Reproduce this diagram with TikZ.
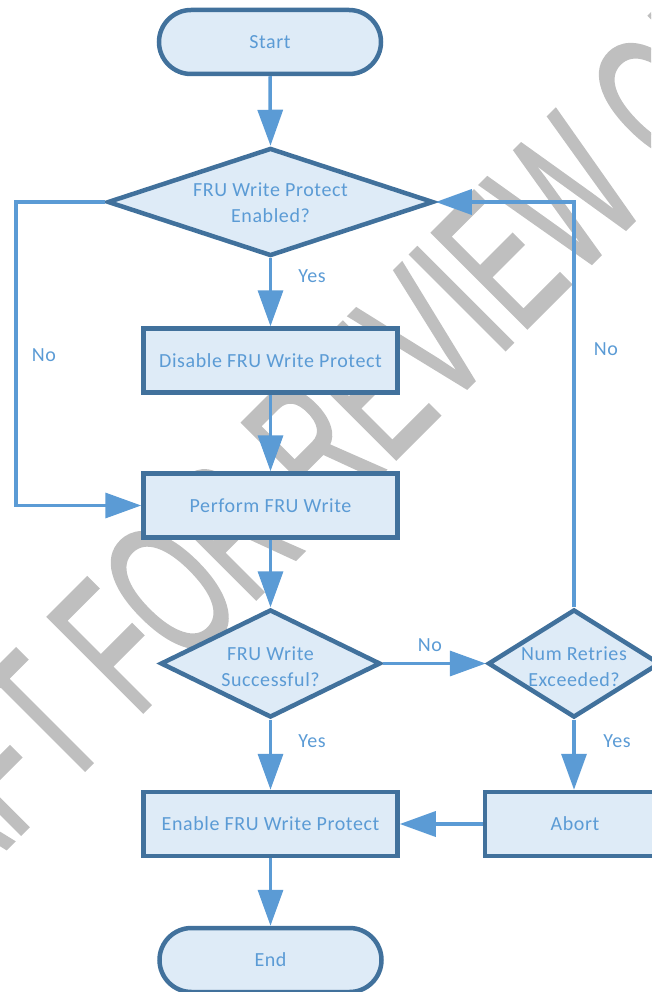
\documentclass[tikz,border=0pt]{standalone}
\usepackage{fontspec}
\setmainfont{Carlito}[LetterSpace=3]
\newfontfamily\wmfont{Liberation Sans}[FakeBold=1.5]
\usetikzlibrary{shapes.geometric,arrows.meta}
\definecolor{bfill}{HTML}{DEEBF7}
\definecolor{bdraw}{HTML}{41719C}
\definecolor{btext}{HTML}{5B9BD5}
\definecolor{arr}{HTML}{5B9BD5}
\definecolor{wmgray}{HTML}{BFBFBF}
\newcommand{\dtext}[2][0pt]{\makebox[0pt]{\raisebox{-#1}[\height][\depth]{\begin{tabular}{@{}c@{}}#2\end{tabular}}}}
\begin{document}
\begin{tikzpicture}[x=1pt,y=-1pt,
  box/.style={draw=bdraw, fill=bfill, line width=4.5pt, text=btext,
    font=\fontsize{20}{26}\selectfont, inner sep=0pt, align=center},
  procbox/.style={box, rectangle, minimum width=254pt, minimum height=64pt},
  termbox/.style={box, rectangle, rounded corners=32pt, minimum width=222pt, minimum height=64pt},
  decbox/.style={box, diamond, aspect=1, minimum height=108pt},
  conn/.style={draw=arr, line width=3.5pt, -{Triangle[length=36pt,width=25pt]}},
  lbl/.style={text=btext, font=\fontsize{20}{24}\selectfont, inner sep=0pt},
  wmtext/.style={transform shape, inner sep=0pt, text=wmgray,
    font=\wmfont\fontsize{195}{200}\selectfont},
]
\useasboundingbox (0,0) rectangle (651,992);
% watermark
\begin{scope}
  \clip (0,0) rectangle (651,992);
  \begin{scope}[shift={(136,719)}, rotate=45, xscale=0.59]
    \node[wmtext, anchor=base west] (wmb) at (0,0) {FOR REVIEW ONLY};
    \node[wmtext, anchor=base east] (wma) at (-54,0) {DRAFT};
  \end{scope}
\end{scope}
% nodes
\node[termbox] (start) at (270,42) {Start};
\node[decbox, minimum width=326pt] (d1) at (270.5,202) {\dtext[2pt]{FRU Write Protect\\Enabled?}};
\node[procbox] (dis) at (270.5,360.5) {Disable FRU Write Protect};
\node[procbox] (perf) at (270.5,505.5) {Perform FRU Write};
\node[decbox, minimum width=220pt] (d2) at (270.5,663.5) {\dtext[5pt]{FRU Write\\Successful?}};
\node[decbox, minimum width=172pt] (d3) at (574,663.5) {\dtext[5pt]{Num Retries\\Exceeded?}};
\node[procbox] (en) at (270.5,824) {Enable FRU Write Protect};
\node[procbox, minimum width=180pt] (ab) at (575,824) {Abort};
\node[termbox] (end) at (270.5,960) {End};
% helper coordinates
\coordinate (lc) at (16,202);
\coordinate (rc) at (574,202);
% connectors
\draw[conn] (start.south) -- (d1.north);
\draw[conn] (d1.south) -- (dis.north);
\draw[conn] (dis.south) -- (perf.north);
\draw[conn] (d1.west) -- (lc) |- (perf.west);
\draw[conn] (perf.south) -- (d2.north);
\draw[conn] (d2.south) -- (en.north);
\draw[conn] (d2.east) -- (d3.west);
\draw[conn] (d3.south) -- (d3.south |- ab.north);
\draw[conn] (ab.west) -- (en.east);
\draw[conn] (d3.north) -- (rc) -- (d1.east);
\draw[conn] (en.south) -- (end.north);
% labels
\node[lbl] (yes1) at (312,276) {Yes};
\node[lbl] (no1) at (44,355) {No};
\node[lbl] (no2) at (606,349) {No};
\node[lbl] (no3) at (430,645) {No};
\node[lbl] (yes2) at (312,741) {Yes};
\node[lbl] (yes3) at (617,741) {Yes};
\end{tikzpicture}
\end{document}
